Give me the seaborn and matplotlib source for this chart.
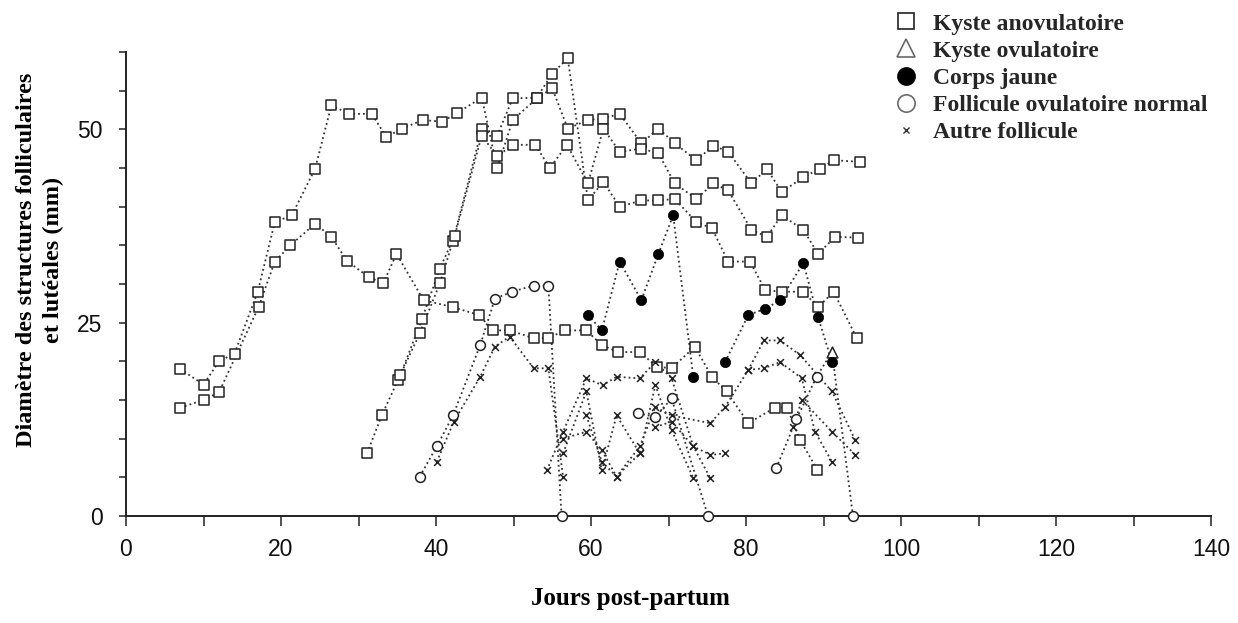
import matplotlib
matplotlib.use("Agg")
import matplotlib.pyplot as plt
from matplotlib.lines import Line2D
from matplotlib.ticker import MultipleLocator
import seaborn as sns

# ---- Kystes anovulatoires (squares) ----
ka1_days = [7, 10, 12, 14, 17, 19.2, 21.4, 24.4, 26.5, 28.8, 31.7, 33.6, 35.6, 38.3, 40.8,
            42.7, 45.9, 47.9, 49.9, 53.0, 55.0, 57.0, 59.6, 61.6, 63.7, 66.5, 68.7, 70.8,
            73.6, 75.8, 77.7, 80.7, 82.7, 84.6, 87.4, 89.5, 91.3, 94.7]
ka1_mm = [19, 17, 20, 21, 29, 38, 38.9, 44.9, 53.1, 52, 52, 49, 50.1, 51.2, 51,
          52.1, 54.1, 45, 51.2, 54, 55.3, 50.1, 51.2, 51.4, 52, 48.2, 50.1, 48.2,
          46, 47.9, 47.1, 43, 44.9, 41.9, 43.8, 44.9, 46, 45.8]

ka2_days = [7, 10, 12, 17.1, 19.2, 21.2, 24.4, 26.5, 28.5, 31.3, 33.2, 34.9, 38.4, 42.2,
            45.5, 47.4, 49.5, 52.6, 54.5, 56.6, 59.4, 61.4, 63.5, 66.3, 68.5, 70.4, 73.4,
            75.6, 77.5, 80.3, 83.7, 85.3, 87.0, 89.2]
ka2_mm = [14, 15, 16, 27, 32.9, 35, 37.8, 36.1, 33, 30.9, 30.1, 33.9, 27.9, 27,
          26, 24, 24, 23, 23, 24, 24, 22.1, 21.2, 21.2, 19.3, 19.1, 21.9,
          18, 16.1, 12, 14, 14, 9.8, 6]

ka3_days = [31.1, 33.0, 35.1, 37.9, 40.5, 42.2, 45.9, 47.9, 49.9, 53.0, 55.0, 57.0, 59.6,
            61.6, 63.7, 66.5, 68.7, 70.8, 73.6, 75.6, 77.7, 80.5, 82.5, 84.6, 87.4, 89.3,
            91.3, 94.3]
ka3_mm = [8.1, 13, 17.6, 23.6, 30.1, 35.6, 50, 49.2, 54, 54.1, 57.2, 59.2, 40.8,
          43.2, 40, 40.8, 40.8, 41, 38, 37.2, 32.9, 32.9, 29.2, 29, 29, 27,
          29, 23]

ka4_days = [35.4, 38.2, 40.5, 42.4, 45.9, 47.9, 49.9, 52.8, 54.7, 56.9, 59.6, 61.6, 63.7,
            66.5, 68.7, 70.8, 73.6, 75.8, 77.7, 80.7, 82.7, 84.6, 87.4, 89.3, 91.5, 94.5]
ka4_mm = [18.2, 25.5, 32, 36.2, 49.2, 46.5, 48, 48, 45, 48, 43, 50.1, 47.1,
          47.5, 46.9, 43, 41, 43, 42.1, 37, 36.1, 38.9, 37, 33.9, 36.1, 36]

# ---- Corps jaunes (filled circles) ----
cj1_days = [59.6, 61.4, 63.7, 66.5, 68.7, 70.6, 73.2]
cj1_mm = [26, 24, 32.9, 27.9, 33.9, 38.9, 18]
cj2_days = [77.3, 80.3, 82.5, 84.4, 87.4, 89.3, 91.1]
cj2_mm = [19.9, 26, 26.8, 27.9, 32.7, 25.7, 19.9]

# ---- Follicules ovulatoires normaux (open circles) ----
fo1_days = [37.9, 40.1, 42.2, 45.7, 47.6, 49.8, 52.6, 54.5, 56.2]
fo1_mm = [5.1, 9, 13, 22.1, 28.1, 29, 29.8, 29.8, 0]
fo2_days = [66.1, 68.3, 70.4, 75.1]
fo2_mm = [13.3, 12.8, 15.2, 0]
fo3_days = [83.9, 86.5, 89.1, 93.8]
fo3_mm = [6.2, 12.5, 18, 0]

# ---- Kyste ovulatoire (open triangle), followed by ovulation ----
ko_days = [91.1]
ko_mm = [21.2]

# ---- Autres follicules (x) ----
af1_days = [40.1, 42.3, 45.7, 47.6, 49.5, 52.6, 54.5, 56.4]
af1_mm = [7, 12.2, 18, 21.9, 23.2, 19.1, 19.1, 5.1]
af2_days = [54.3, 56.4, 59.4, 61.5, 63.3, 66.3, 68.3, 70.4, 73.2, 75.4]
af2_mm = [5.9, 10.9, 17.8, 16.9, 18, 17.8, 19.9, 17.8, 9, 4.9]
af3_days = [56.4, 59.4, 61.4, 63.3, 66.3, 68.3, 70.4, 73.2]
af3_mm = [8.1, 16.1, 5.9, 13, 8.1, 16.9, 11.1, 4.9]
af4_days = [59.4, 61.4, 63.3, 66.3, 68.3, 70.4, 75.4, 77.3, 80.3, 82.3, 84.4, 87.0, 91.1, 94.1]
af4_mm = [13, 7, 5.1, 9, 14.1, 13, 12, 14.1, 18.9, 22.7, 22.7, 20.8, 16.1, 9.8]
af5_days = [56.4, 59.4, 61.4, 63.3, 66.3]
af5_mm = [10, 10.9, 8.5, 5.1, 8.1]
af6_days = [68.3, 70.4, 73.2, 75.4, 77.3]
af6_mm = [11.5, 12.2, 9, 7.9, 8.1]
af7_days = [80.3, 82.3, 84.4, 87.2, 88.9, 91.1]
af7_mm = [18.9, 19.1, 19.9, 17.8, 10.9, 7]
af8_days = [86.1, 87.2, 91.1, 94.1]
af8_mm = [11.5, 15, 10.9, 7.9]

legend_labels = ["Kyste anovulatoire", "Kyste ovulatoire", "Corps jaune",
                 "Follicule ovulatoire normal", "Autre follicule"]

sns.set_theme(style="ticks")
plt.rcParams["font.family"] = ["Liberation Sans", "DejaVu Sans"]

W, H = 1238, 623
fig = plt.figure(figsize=(W / 100, H / 100), dpi=100)
ax = fig.add_axes([126 / W, 1 - 516 / H, (1211 - 126) / W, (516 - 52) / H])

INK = "#222222"
line_kw = dict(color="#333333", linewidth=1.3, linestyle=(0, (1, 1.7)))


def track(days, mm):
    sns.lineplot(x=days, y=mm, ax=ax, sort=False, estimator=None,
                 errorbar=None, legend=False, **line_kw)


# dotted connecting lines
for d, v in [(ka1_days, ka1_mm), (ka2_days, ka2_mm), (ka3_days, ka3_mm), (ka4_days, ka4_mm),
             (cj1_days, cj1_mm), (cj2_days, cj2_mm), (fo1_days, fo1_mm), (fo2_days, fo2_mm),
             (af1_days, af1_mm), (af2_days, af2_mm), (af3_days, af3_mm), (af4_days, af4_mm),
             (af5_days, af5_mm), (af6_days, af6_mm), (af7_days, af7_mm), (af8_days, af8_mm)]:
    track(d, v)
# the ovulatory follicle of the last wave passes through the ovulatory cyst
track(fo3_days[:3] + ko_days + fo3_days[3:], fo3_mm[:3] + ko_mm + fo3_mm[3:])

# markers
for d, v in [(ka1_days, ka1_mm), (ka2_days, ka2_mm), (ka3_days, ka3_mm), (ka4_days, ka4_mm)]:
    sns.scatterplot(x=d, y=v, ax=ax, marker="s", s=50, facecolor="white",
                    edgecolor=INK, linewidth=1.1, legend=False, zorder=3)
for d, v in [(af1_days, af1_mm), (af2_days, af2_mm), (af3_days, af3_mm), (af4_days, af4_mm),
             (af5_days, af5_mm), (af6_days, af6_mm), (af7_days, af7_mm), (af8_days, af8_mm)]:
    sns.scatterplot(x=d, y=v, ax=ax, marker="x", s=24, color=INK,
                    linewidth=1.1, legend=False, zorder=3)
for d, v in [(fo1_days, fo1_mm), (fo2_days, fo2_mm), (fo3_days, fo3_mm)]:
    sns.scatterplot(x=d, y=v, ax=ax, marker="o", s=50, facecolor="white",
                    edgecolor=INK, linewidth=1.1, legend=False, zorder=4, clip_on=False)
sns.scatterplot(x=ko_days, y=ko_mm, ax=ax, marker="^", s=60, facecolor="white",
                edgecolor=INK, linewidth=1.1, legend=False, zorder=4)
for d, v in [(cj1_days, cj1_mm), (cj2_days, cj2_mm)]:
    sns.scatterplot(x=d, y=v, ax=ax, marker="o", s=55, color="black",
                    edgecolor="black", linewidth=0.5, legend=False, zorder=5)

# axes
ax.set_xlim(0, 140)
ax.set_ylim(0, 60)
ax.set_xticks(range(0, 141, 20))
ax.xaxis.set_minor_locator(MultipleLocator(10))
ax.set_yticks([0, 25, 50])
ax.yaxis.set_minor_locator(MultipleLocator(5))
ax.tick_params(axis="x", which="both", direction="out", length=7, width=1.1,
               color=INK, pad=9, labelsize=16.5, labelcolor="#111111")
ax.tick_params(axis="y", which="both", direction="out", length=5, width=1.1,
               color=INK, pad=12, labelsize=16.5, labelcolor="#111111")
sns.despine(ax=ax)
for side in ("left", "bottom"):
    ax.spines[side].set_color(INK)
    ax.spines[side].set_linewidth(1.4)

serif_bold = dict(fontfamily="Liberation Serif", fontweight="bold", color="black")
ax.set_xlabel("Jours post-partum", fontsize=18, va="center", **serif_bold)
ax.xaxis.set_label_coords(0.465, -0.177)
ax.set_ylabel("Diamètre des structures folliculaires\net lutéales (mm)", fontsize=17.5,
              va="center", ha="center", multialignment="center", linespacing=1.35,
              **serif_bold)
ax.yaxis.set_label_coords(-0.0793, 0.552)

handles = [
    Line2D([], [], linestyle="none", marker="s", markersize=11, markerfacecolor="white",
           markeredgecolor=INK, markeredgewidth=1.2),
    Line2D([], [], linestyle="none", marker="^", markersize=13, markerfacecolor="white",
           markeredgecolor="#6a6a6a", markeredgewidth=1.2),
    Line2D([], [], linestyle="none", marker="o", markersize=12.5, markerfacecolor="black",
           markeredgecolor="black"),
    Line2D([], [], linestyle="none", marker="o", markersize=12.5, markerfacecolor="white",
           markeredgecolor="#6a6a6a", markeredgewidth=1.2),
    Line2D([], [], linestyle="none", marker="x", markersize=5, color="#333333",
           markeredgewidth=1.0),
]
fig.legend(handles, legend_labels, loc="upper left", bbox_to_anchor=(894 / W, 1 - 13 / H),
           frameon=False, prop=dict(family="Liberation Serif", weight="bold", size=17),
           handlelength=1.0, handletextpad=0.65, labelspacing=0.24, borderpad=0,
           borderaxespad=0)

fig.savefig("out.png", dpi=100)
